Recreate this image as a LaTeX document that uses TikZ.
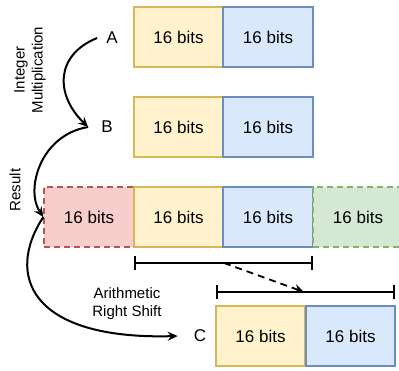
\documentclass[tikz,border=0pt]{standalone}
\usepackage{fontspec}
\setmainfont{Liberation Sans}
\usetikzlibrary{arrows.meta}
\definecolor{yfill}{HTML}{FFF2CC}
\definecolor{ydraw}{HTML}{D6B656}
\definecolor{bfill}{HTML}{DAE8FC}
\definecolor{bdraw}{HTML}{6C8EBF}
\definecolor{rfill}{HTML}{F8CECC}
\definecolor{rdraw}{HTML}{B85450}
\definecolor{gfill}{HTML}{D5E8D4}
\definecolor{gdraw}{HTML}{82B366}
\begin{document}
\begin{tikzpicture}[x=1pt,y=-1pt,
  bitbox/.style={draw, line width=1.8pt, minimum width=89.5pt, minimum height=60pt, inner sep=0pt, font=\fontsize{17}{20}\selectfont},
  ybox/.style={bitbox, fill=yfill, draw=ydraw},
  bbox/.style={bitbox, fill=bfill, draw=bdraw},
  rbox/.style={bitbox, fill=rfill, draw=rdraw, dash pattern=on 6pt off 4pt},
  gbox/.style={bitbox, fill=gfill, draw=gdraw, dash pattern=on 6pt off 4pt},
  letter/.style={inner sep=0pt, font=\fontsize{17}{20}\selectfont},
  lbl/.style={inner sep=0pt, align=center, font=\fontsize{15}{18}\selectfont},
  curvearrow/.style={line width=2pt, -{Stealth[length=10pt,width=9pt,inset=3.5pt]}},
  bracket/.style={line width=2.2pt, {Bar[width=14pt]}-{Bar[width=14pt]}},
]
\useasboundingbox (0,0) rectangle (399,371);
\clip (0,0) rectangle (399,371);

% row A
\node[ybox] (a1) at (178.5,37) {16 bits};
\node[bbox] (a2) at (268,37) {16 bits};
\node[letter] (A) at (112,38) {A};
% row B
\node[ybox] (b1) at (178.5,127) {16 bits};
\node[bbox] (b2) at (268,127) {16 bits};
\node[letter] (B) at (107,127) {B};
% result row
\node[rbox] (r0) at (89,217) {16 bits};
\node[ybox] (r1) at (178.5,217) {16 bits};
\node[bbox] (r2) at (268,217) {16 bits};
\node[gbox, minimum width=90pt] (r3) at (358,217) {16 bits};
% row C
\node[ybox] (c1) at (260.5,336) {16 bits};
\node[bbox] (c2) at (350.5,336) {16 bits};
\node[letter] (C) at (200,336) {C};

% labels
\node[lbl, rotate=90] (lmul) at (30,70) {Integer\\Multiplication};
\node[lbl, rotate=90] (lres) at (15,190) {Result};
\node[lbl] (lshift) at (127,304) {Arithmetic\\Right Shift};

% brackets
\coordinate (k1l) at (134,263);
\coordinate (k1r) at (313,263);
\coordinate (k1m) at (224,263);
\coordinate (k2l) at (216,292);
\coordinate (k2r) at (395,292);
\coordinate (k2m) at (304,292);
\draw[bracket] (k1l) -- (k1r);
\draw[bracket] (k2l) -- (k2r);
\draw[line width=1.8pt, dash pattern=on 7pt off 5pt, -{Stealth[length=10pt,width=9pt,inset=3.5pt]}] (k1m) -- (k2m);

% curves
\draw[curvearrow] ([xshift=-9pt]A.west) .. controls (55,55) and (55,95) .. ([xshift=-13pt]B.west);
\draw[curvearrow] ([xshift=-13pt]B.west) .. controls (40,135) and (25,190) .. (r0.west);
\draw[curvearrow] (r0.west) .. controls (5,275) and (30,340) .. ([xshift=-16pt]C.west);
\end{tikzpicture}
\end{document}
